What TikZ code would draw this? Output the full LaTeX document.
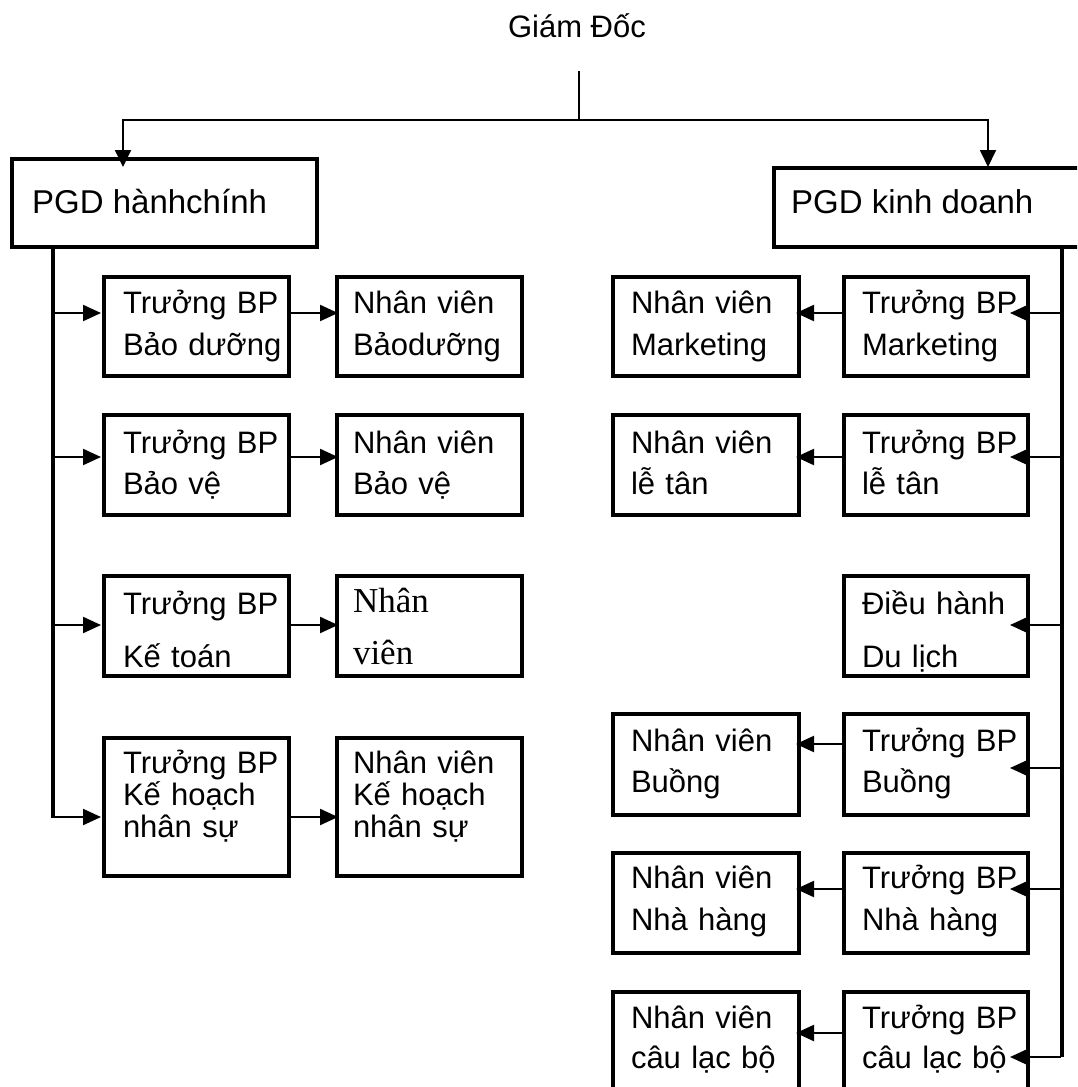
\documentclass[tikz,border=0pt]{standalone}
\usepackage{fontspec}
\setmainfont{Liberation Sans}
\newfontfamily\serifnv{Liberation Serif}
\usetikzlibrary{arrows.meta,calc}
\tikzset{
  box/.style={draw, line width=3.2pt, rectangle, inner sep=0pt, outer sep=0pt, anchor=north west},
  txt/.style={anchor=base west, inner sep=0pt, outer sep=0pt, align=left, text width=#1},
  sk/.style={font=\fontsize{31}{#1}\selectfont},
  arr/.style={line width=2.2pt, -{Triangle[length=18pt,width=16pt]}},
  toparr/.style={line width=1.8pt, -{Triangle[length=17pt,width=16pt]}},
  trunk/.style={line width=3.3pt},
  thinline/.style={line width=1.8pt},
}
\begin{document}
\begin{tikzpicture}[x=1pt,y=-1pt]
\useasboundingbox (0,0) rectangle (1077,1087);
\clip (0,0) rectangle (1077,1087);

% top
\node[anchor=base, inner sep=0pt, font=\fontsize{31}{36}\selectfont] (gd) at (577,37) {Giám Đốc};
\coordinate (gdl) at (579,71);
\coordinate (j) at (579,120);

\node[box, minimum width=305pt, minimum height=88pt] (pgdh) at (12,159) {};
\node[anchor=base west, inner sep=0pt, font=\fontsize{33}{38}\selectfont] (pgdhx) at (32,213) {PGD hànhchính};
\node[box, minimum width=330pt, minimum height=79pt] (pgdk) at (774,168) {};
\node[anchor=base west, inner sep=0pt, font=\fontsize{33}{38}\selectfont] (pgdkx) at (791,213) {PGD kinh doanh};

\draw[thinline] (gdl) -- (j);
\draw[toparr] (j) -| ($(pgdh.north west)+(111,8)$);
\draw[toparr] (j) -| ($(pgdk.north west)+(214,-1)$);

% left column boxes
\node[box, minimum width=185pt, minimum height=99pt]  (t1) at (104,277) {};
\node[box, minimum width=185pt, minimum height=99pt]  (n1) at (337,277) {};
\node[box, minimum width=185pt, minimum height=100pt] (t2) at (104,415) {};
\node[box, minimum width=185pt, minimum height=100pt] (n2) at (337,415) {};
\node[box, minimum width=185pt, minimum height=100pt] (t3) at (104,576) {};
\node[box, minimum width=185pt, minimum height=100pt] (n3) at (337,576) {};
\node[box, minimum width=185pt, minimum height=138pt] (t4) at (104,738) {};
\node[box, minimum width=185pt, minimum height=138pt] (n4) at (337,738) {};

\node[txt=164pt, sk=42] (t1x) at (123,313) {Trưởng BP\\Bảo dưỡng};
\node[txt=167pt, sk=42] (n1x) at (353,313) {Nhân viên\\Bảodưỡng};
\node[txt=164pt, sk=41] (t2x) at (123,453) {Trưởng BP\\Bảo vệ};
\node[txt=167pt, sk=41] (n2x) at (353,453) {Nhân viên\\Bảo vệ};
\node[txt=164pt, sk=53] (t3x) at (123,614) {Trưởng BP\\Kế toán};
\node[txt=167pt, anchor=base west, font=\serifnv\fontsize{35}{52}\selectfont] (n3x) at (353,612) {Nhân\\viên};
\node[txt=164pt, sk=32] (t4x) at (123,773) {Trưởng BP\\Kế hoạch\\nhân sự};
\node[txt=167pt, sk=32] (n4x) at (353,773) {Nhân viên\\Kế hoạch\\nhân sự};

% left trunk and arrows
\coordinate (LT) at ($(pgdh.south west)+(41,0)$);
\coordinate (e1) at ($(t1.north west)+(-3,36)$);
\coordinate (e2) at ($(t2.north west)+(-3,42)$);
\coordinate (e3) at ($(t3.north west)+(-3,49)$);
\coordinate (e4) at ($(t4.north west)+(-3,79)$);
\draw[trunk] (LT) -- (LT |- e4);
\draw[arr] ($(LT |- e1)+(-2,0)$) -- (e1);
\draw[arr] ($(LT |- e2)+(-2,0)$) -- (e2);
\draw[arr] ($(LT |- e3)+(-2,0)$) -- (e3);
\draw[arr] ($(LT |- e4)+(-2,0)$) -- (e4);
\draw[arr] (e1 -| t1.east) -- ($(e1 -| n1.west)+(1,0)$);
\draw[arr] (e2 -| t2.east) -- ($(e2 -| n2.west)+(1,0)$);
\draw[arr] (e3 -| t3.east) -- ($(e3 -| n3.west)+(1,0)$);
\draw[arr] (e4 -| t4.east) -- ($(e4 -| n4.west)+(1,0)$);

% right column boxes
\node[box, minimum width=186pt, minimum height=99pt]  (a1) at (613,277) {};
\node[box, minimum width=184pt, minimum height=99pt]  (b1) at (844,277) {};
\node[box, minimum width=186pt, minimum height=100pt] (a2) at (613,415) {};
\node[box, minimum width=184pt, minimum height=100pt] (b2) at (844,415) {};
\node[box, minimum width=184pt, minimum height=100pt] (b3) at (844,576) {};
\node[box, minimum width=186pt, minimum height=101pt] (a4) at (613,714) {};
\node[box, minimum width=184pt, minimum height=101pt] (b4) at (844,714) {};
\node[box, minimum width=186pt, minimum height=100pt] (a5) at (613,853) {};
\node[box, minimum width=184pt, minimum height=100pt] (b5) at (844,853) {};
\node[box, minimum width=186pt, minimum height=120pt] (a6) at (613,992) {};
\node[box, minimum width=184pt, minimum height=120pt] (b6) at (844,992) {};

\node[txt=166pt, sk=42] (a1x) at (631,313) {Nhân viên\\Marketing};
\node[txt=164pt, sk=42] (b1x) at (862,313) {Trưởng BP\\Marketing};
\node[txt=166pt, sk=41] (a2x) at (631,453) {Nhân viên\\lễ tân};
\node[txt=164pt, sk=41] (b2x) at (862,453) {Trưởng BP\\lễ tân};
\node[txt=164pt, sk=53] (b3x) at (862,614) {Điều hành\\Du lịch};
\node[txt=166pt, sk=41] (a4x) at (631,751) {Nhân viên\\Buồng};
\node[txt=164pt, sk=41] (b4x) at (862,751) {Trưởng BP\\Buồng};
\node[txt=166pt, sk=42] (a5x) at (631,888) {Nhân viên\\Nhà hàng};
\node[txt=164pt, sk=42] (b5x) at (862,888) {Trưởng BP\\Nhà hàng};
\node[txt=166pt, sk=40] (a6x) at (631,1028) {Nhân viên\\câu lạc bộ};
\node[txt=164pt, sk=40] (b6x) at (862,1028) {Trưởng BP\\câu lạc bộ};

% right trunk and arrows
\coordinate (RT) at ($(pgdk.south west)+(288,0)$);
\coordinate (f1) at ($(b1.north east)+(-18,36)$);
\coordinate (f2) at ($(b2.north east)+(-18,42)$);
\coordinate (f3) at ($(b3.north east)+(-18,49)$);
\coordinate (f4) at ($(b4.north east)+(-18,54)$);
\coordinate (f5) at ($(b5.north east)+(-18,36)$);
\coordinate (f6) at ($(b6.north east)+(-18,65)$);
\draw[trunk] (RT) -- (RT |- f6);
\foreach \f in {f1,f2,f3,f4,f5,f6}{
  \draw[arr] ($(RT |- \f)+(-1,0)$) -- (\f);
}
\coordinate (g1) at ($(b1.north west)+(0,36)$);
\coordinate (g2) at ($(b2.north west)+(0,42)$);
\coordinate (g4) at ($(b4.north west)+(0,30)$);
\coordinate (g5) at ($(b5.north west)+(0,36)$);
\coordinate (g6) at ($(b6.north west)+(0,41)$);
\draw[arr] (g1) -- ($(g1 -| a1.east)+(-3,0)$);
\draw[arr] (g2) -- ($(g2 -| a2.east)+(-3,0)$);
\draw[arr] (g4) -- ($(g4 -| a4.east)+(-3,0)$);
\draw[arr] (g5) -- ($(g5 -| a5.east)+(-3,0)$);
\draw[arr] (g6) -- ($(g6 -| a6.east)+(-3,0)$);
\end{tikzpicture}
\end{document}
